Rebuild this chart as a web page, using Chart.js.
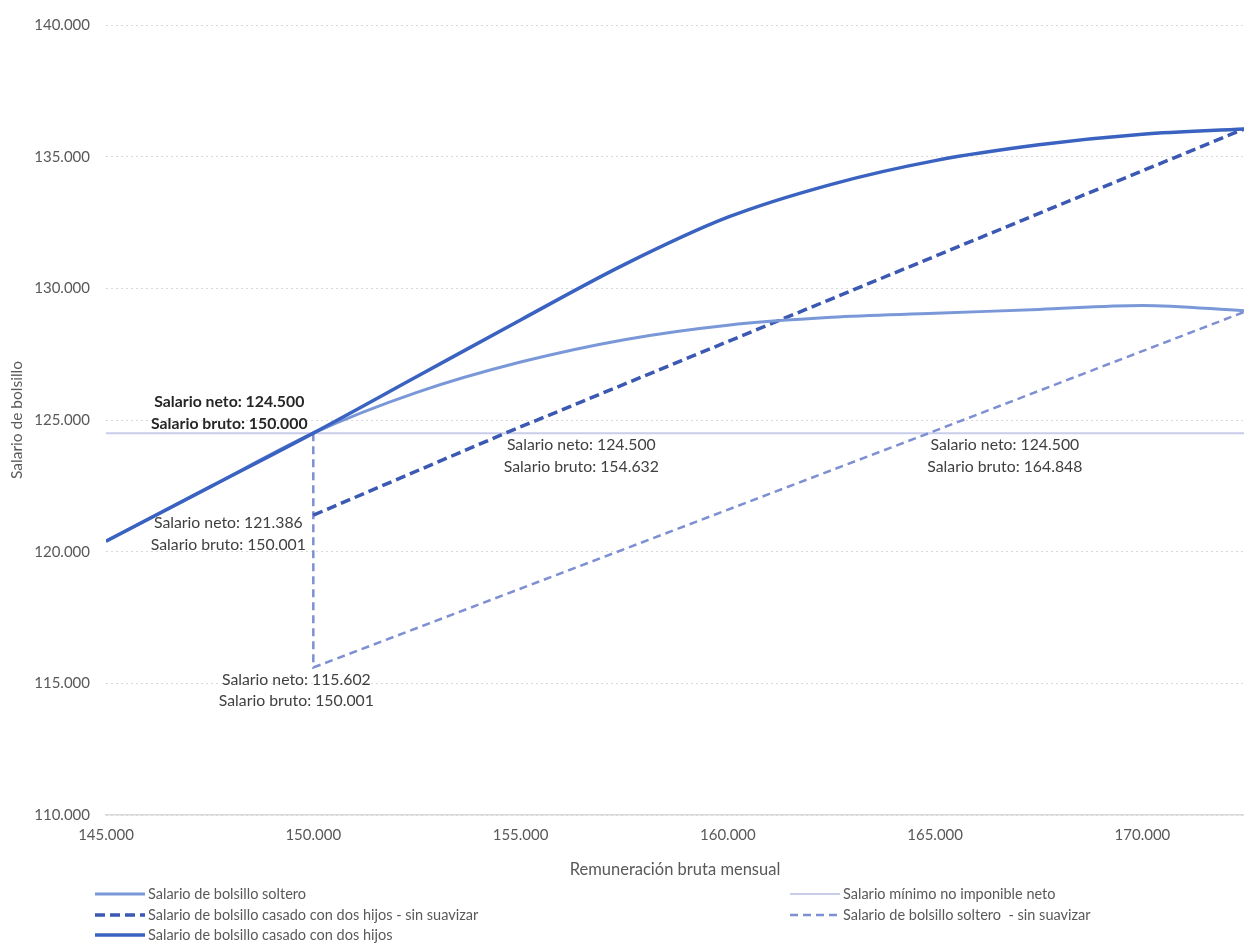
<!DOCTYPE html>
<html>
<head>
<meta charset="utf-8">
<script src="https://cdn.jsdelivr.net/npm/chart.js@4.4.1/dist/chart.umd.min.js"></script>
<style>
  html, body { margin: 0; padding: 0; background: #ffffff; }
  canvas { display: block; }
</style>
</head>
<body>
<canvas id="chart" width="1244" height="944"></canvas>
<script>
// Remuneración bruta mensual (eje X) para las curvas suavizadas
const grossSmooth = [145000, 147500, 150000, 152500, 155000, 157500, 160000, 162500, 165000, 167500, 170000, 172450];
// Salario de bolsillo casado con dos hijos
const netMarried  = [120400, 122450, 124500, 126650, 128800, 130900, 132700, 133950, 134850, 135450, 135850, 136050];
// Salario de bolsillo soltero
const netSingle   = [120400, 122450, 124500, 126050, 127200, 128050, 128600, 128900, 129050, 129200, 129350, 129150];

// Curvas sin suavizar
const grossMarriedRaw = [150001, 154632, 172450];
const netMarriedRaw   = [121386, 124500, 136050];
const grossSingleRaw  = [150000, 150001, 164848, 172450];
const netSingleRaw    = [124500, 115602, 124500, 129100];

// Salario mínimo no imponible neto
const grossMinimum = [145000, 172450];
const netMinimum   = [124500, 124500];

// Puntos anotados (bruto / neto)
const calloutGross = [150000, 150001, 150001, 154632, 164848];
const calloutNet   = [124500, 121386, 115602, 124500, 124500];

// Ejes
const xMin = 145000, xMax = 172450;
const xTickValues = [145000, 150000, 155000, 160000, 165000, 170000];
const yMin = 110000, yMax = 140000, yStep = 5000;

const seriesNames = [
  'Salario de bolsillo soltero',
  'Salario mínimo no imponible neto',
  'Salario de bolsillo casado con dos hijos - sin suavizar',
  'Salario de bolsillo soltero  - sin suavizar',
  'Salario de bolsillo casado con dos hijos'
];

const fmt = n => String(n).replace(/\B(?=(\d{3})+(?!\d))/g, '.');
const pts = (xs, ys) => xs.map((v, i) => ({ x: v, y: ys[i] }));

const FONT = "Lato, 'Open Sans', sans-serif";
const AXIS_TEXT = '#595959';

const COLORS = {
  married: '#3a62c0',
  marriedRaw: '#3b58b2',
  single: '#7a98d8',
  singleRaw: '#7e90d2',
  minimum: '#c9cdea'
};

// Datasets: the first one is painted on top
const datasets = [
  { label: seriesNames[4], data: pts(grossSmooth, netMarried), borderColor: COLORS.married, borderWidth: 3.5, cubicInterpolationMode: 'monotone' },
  { label: seriesNames[0], data: pts(grossSmooth, netSingle), borderColor: COLORS.single, borderWidth: 3, cubicInterpolationMode: 'monotone' },
  { label: seriesNames[2], data: pts(grossMarriedRaw, netMarriedRaw), borderColor: COLORS.marriedRaw, borderWidth: 3.5, borderDash: [10, 5] },
  { label: seriesNames[3], data: pts(grossSingleRaw, netSingleRaw), borderColor: COLORS.singleRaw, borderWidth: 2.5, borderDash: [8, 5] },
  { label: seriesNames[1], data: pts(grossMinimum, netMinimum), borderColor: COLORS.minimum, borderWidth: 2 }
];
datasets.forEach(d => { d.pointRadius = 0; d.fill = false; });

// Value callouts next to the marked points
const calloutLayout = [
  { dx: -84, dy: -31, bold: true },
  { dx: -85, dy: 8 },
  { dx: -17, dy: 12 },
  { dx: 76, dy: 12 },
  { dx: 76, dy: 12 }
];

const calloutPlugin = {
  id: 'callouts',
  afterDatasetsDraw(chart) {
    const { ctx, scales: { x, y } } = chart;
    ctx.save();
    ctx.textAlign = 'center';
    ctx.textBaseline = 'middle';
    calloutGross.forEach((g, i) => {
      const px = x.getPixelForValue(g);
      const py = y.getPixelForValue(calloutNet[i]);
      const l = calloutLayout[i];
      ctx.font = (l.bold ? 'bold ' : '') + '15.8px ' + FONT;
      ctx.fillStyle = l.bold ? '#262626' : '#404040';
      ctx.fillText('Salario neto: ' + fmt(calloutNet[i]), px + l.dx, py + l.dy);
      ctx.fillText('Salario bruto: ' + fmt(g), px + l.dx, py + l.dy + 21.5);
    });
    ctx.restore();
  }
};

// Two-column legend below the axis title
const legendPlugin = {
  id: 'twoColumnLegend',
  afterDraw(chart) {
    const { ctx } = chart;
    const byLabel = {};
    chart.data.datasets.forEach(d => { byLabel[d.label] = d; });
    const colX = [95, 790];
    const rowY = [894, 915, 935];
    ctx.save();
    ctx.font = '14.5px ' + FONT;
    ctx.textBaseline = 'middle';
    ctx.textAlign = 'left';
    seriesNames.forEach((name, i) => {
      const d = byLabel[name];
      const cx = colX[i % 2], cy = rowY[Math.floor(i / 2)];
      ctx.strokeStyle = d.borderColor;
      ctx.lineWidth = d.borderWidth;
      ctx.setLineDash(d.borderDash || []);
      ctx.beginPath();
      ctx.moveTo(cx, cy);
      ctx.lineTo(cx + 50, cy);
      ctx.stroke();
      ctx.setLineDash([]);
      ctx.fillStyle = AXIS_TEXT;
      ctx.fillText(name, cx + 53, cy);
    });
    ctx.restore();
  }
};

new Chart(document.getElementById('chart'), {
  type: 'line',
  data: { datasets },
  options: {
    responsive: false,
    animation: false,
    devicePixelRatio: 1,
    layout: { padding: { top: 23, right: 0, bottom: 60, left: 0 } },
    plugins: { legend: { display: false }, tooltip: { enabled: false } },
    scales: {
      x: {
        type: 'linear',
        min: xMin,
        max: xMax,
        afterBuildTicks: s => { s.ticks = xTickValues.map(v => ({ value: v })); },
        afterFit: s => { s.height = 69; s.paddingRight = 0; },
        ticks: {
          autoSkip: false,
          maxRotation: 0,
          padding: 11,
          color: AXIS_TEXT,
          font: { family: FONT, size: 15 },
          callback: v => fmt(v)
        },
        grid: { display: false, drawTicks: false },
        border: { display: true, color: '#d9d9d9', width: 1.5 },
        title: {
          display: true,
          text: 'Remuneración bruta mensual',
          color: AXIS_TEXT,
          font: { family: FONT, size: 16.5 },
          padding: { top: 0, bottom: 4 }
        }
      },
      y: {
        type: 'linear',
        min: yMin,
        max: yMax,
        afterFit: s => { s.width = 106; },
        ticks: {
          stepSize: yStep,
          padding: 16,
          color: AXIS_TEXT,
          font: { family: FONT, size: 15 },
          callback: v => fmt(v)
        },
        grid: { color: '#d9d9d9', lineWidth: 1, drawTicks: false },
        border: { display: false, dash: [2, 3] },
        title: {
          display: true,
          text: 'Salario de bolsillo',
          color: AXIS_TEXT,
          font: { family: FONT, size: 15.5 },
          padding: { top: 8, bottom: 0 }
        }
      }
    }
  },
  plugins: [calloutPlugin, legendPlugin]
});
</script>
</body>
</html>
